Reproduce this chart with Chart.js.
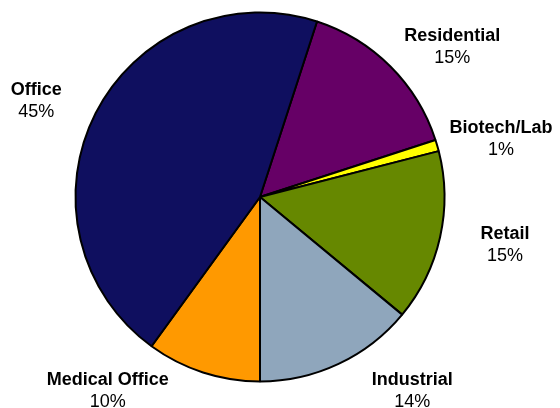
<!DOCTYPE html>
<html>
<head>
<meta charset="utf-8">
<script src="https://cdn.jsdelivr.net/npm/chart.js@4"></script>
<style>
  html, body { margin: 0; padding: 0; background: #fff; }
  canvas { display: block; }
</style>
</head>
<body>
<canvas id="sectorChart" width="560" height="408"></canvas>
<script>
// Portfolio share by property type (percent)
const sectors = ['Residential', 'Biotech/Lab', 'Retail', 'Industrial', 'Medical Office', 'Office'];
const shares = [15, 1, 15, 14, 10, 45];
const sliceColors = ['#660066', '#FFFF00', '#668800', '#8FA6BC', '#FF9900', '#0F0F5F'];

// Outside labels: name in bold, percentage underneath
const outsideLabels = {
    id: 'outsideLabels',
    afterDatasetsDraw(chart) {
        const ctx = chart.ctx;
        const meta = chart.getDatasetMeta(0);
        const data = chart.data.datasets[0].data;
        const total = data.reduce((a, b) => a + b, 0);
        // labels sit on an ellipse a bit wider than tall
        const rx = 251, ry = 215;
        const clampDist = 245;
        const yMin = 45, yMax = 389;

        ctx.save();
        ctx.fillStyle = '#000';
        ctx.textAlign = 'center';
        ctx.textBaseline = 'alphabetic';

        meta.data.forEach((arc, i) => {
            const p = arc.getProps(['x', 'y', 'startAngle', 'endAngle'], true);
            const mid = (p.startAngle + p.endAngle) / 2;
            let x = p.x + rx * Math.cos(mid);
            let y = p.y + ry * Math.sin(mid);
            // near the top/bottom edge: pin y and push the label sideways
            if (y < yMin || y > yMax) {
                y = Math.min(Math.max(y, yMin), yMax);
                const dy = y - p.y;
                const dx = Math.sqrt(Math.max(clampDist * clampDist - dy * dy, 0));
                x = p.x + (Math.cos(mid) >= 0 ? dx : -dx);
            }
            const pct = Math.round(data[i] / total * 100) + '%';
            ctx.font = 'bold 18px "Liberation Sans", Arial, sans-serif';
            ctx.fillText(chart.data.labels[i], x, y - 4.5);
            ctx.font = '18px "Liberation Sans", Arial, sans-serif';
            ctx.fillText(pct, x, y + 17.5);
        });
        ctx.restore();
    }
};

const ctx = document.getElementById('sectorChart').getContext('2d');
const sectorChart = new Chart(ctx, {
    type: 'pie',
    data: {
        labels: sectors,
        datasets: [{
            data: shares,
            backgroundColor: sliceColors,
            borderColor: '#000',
            borderWidth: 2
        }]
    },
    options: {
        responsive: false,
        animation: false,
        devicePixelRatio: 1,
        rotation: 18,
        layout: {
            padding: { left: 74.5, right: 114.5, top: 11.5, bottom: 25.5 }
        },
        plugins: {
            legend: { display: false },
            tooltip: { enabled: false }
        }
    },
    plugins: [outsideLabels]
});
</script>
</body>
</html>
